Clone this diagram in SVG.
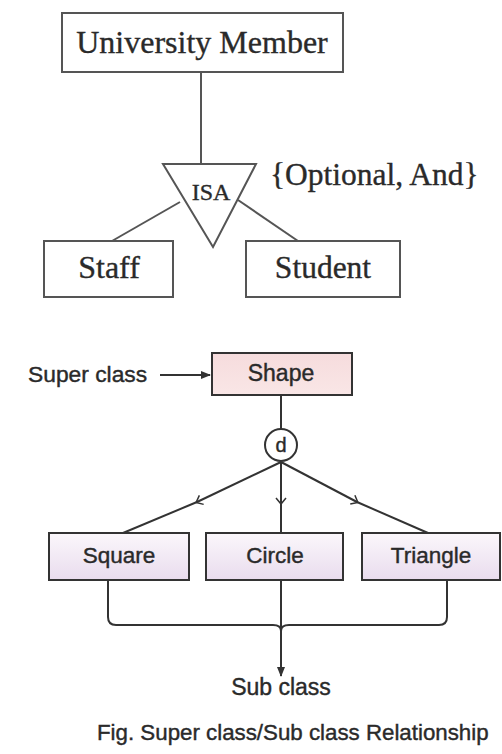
<svg xmlns="http://www.w3.org/2000/svg" width="502" height="754" viewBox="0 0 502 754">
<style>
.serif{font-family:"Liberation Serif","Times New Roman",serif;fill:#2a2a2a;stroke:#2a2a2a;stroke-width:0.35}
.sans{font-family:"Liberation Sans",Arial,sans-serif;fill:#2a2a2a;stroke:#2a2a2a;stroke-width:0.4}
.er{fill:#fff;stroke:#555;stroke-width:2}
.ln{fill:none;stroke:#555;stroke-width:2}
.dk{fill:none;stroke:#333;stroke-width:2}
.sub{fill:url(#gSub);stroke:#333;stroke-width:2}
</style>
<defs>
<linearGradient id="gSub" x1="0" y1="0" x2="0" y2="1">
<stop offset="0" stop-color="#fbf7fb"/>
<stop offset="1" stop-color="#e9dcee"/>
</linearGradient>
<linearGradient id="gSup" x1="0" y1="0" x2="0" y2="1">
<stop offset="0" stop-color="#f6dcdd"/>
<stop offset="1" stop-color="#f9e6e6"/>
</linearGradient>
<marker id="solid" markerWidth="10" markerHeight="10" refX="9" refY="5" orient="auto" markerUnits="userSpaceOnUse">
<path d="M0,1 L10,5 L0,9 Z" fill="#333"/>
</marker>
<marker id="open" markerWidth="12" markerHeight="12" refX="6" refY="6" orient="auto" markerUnits="userSpaceOnUse">
<path d="M1,1 L7,6 L1,11" fill="none" stroke="#333" stroke-width="1.5"/>
</marker>
</defs>

<g id="connectors">
<line class="ln" x1="201" y1="72" x2="201" y2="164"/>
<line class="ln" x1="180" y1="202" x2="112" y2="241"/>
<line class="ln" x1="238" y1="200" x2="298" y2="241"/>
<line class="dk" x1="160" y1="375" x2="210" y2="375" marker-end="url(#solid)"/>
<line class="dk" x1="281" y1="396" x2="281" y2="429"/>
<path class="dk" d="M281,462 L197,502" marker-end="url(#open)"/>
<line class="dk" x1="197" y1="502" x2="123" y2="533"/>
<path class="dk" d="M281,462 L281,503" marker-end="url(#open)"/>
<line class="dk" x1="281" y1="503" x2="281" y2="533"/>
<path class="dk" d="M281,462 L357,502" marker-end="url(#open)"/>
<line class="dk" x1="357" y1="502" x2="428" y2="533"/>
<path class="dk" d="M108,580 L108,617 Q108,625 116,625 L273,625 Q281,625 281,631 Q281,625 289,625 L439,625 Q447,625 447,617 L447,580"/>
<line class="dk" x1="281" y1="580" x2="281" y2="676" marker-end="url(#solid)"/>
</g>

<g id="university-member">
<rect class="er" x="62" y="13" width="281" height="59"/>
<text class="serif" x="202" y="53" font-size="32" text-anchor="middle">University Member</text>
</g>
<g id="isa">
<polygon class="er" points="163,164 256,164 213,247"/>
<text class="serif" x="211" y="200" font-size="24" text-anchor="middle">ISA</text>
</g>
<g id="constraint">
<text class="serif" x="270" y="185" font-size="31.5">{Optional, And}</text>
</g>
<g id="staff">
<rect class="er" x="44" y="241" width="129" height="56"/>
<text class="serif" x="109" y="278" font-size="32" text-anchor="middle">Staff</text>
</g>
<g id="student">
<rect class="er" x="246" y="241" width="154" height="56"/>
<text class="serif" x="323" y="278" font-size="31.5" text-anchor="middle">Student</text>
</g>

<g id="super-class-label">
<text class="sans" x="28" y="382" font-size="22.8">Super class</text>
</g>
<g id="shape">
<rect x="212" y="353" width="140" height="42" fill="url(#gSup)" stroke="#333" stroke-width="2"/>
<text class="sans" x="281" y="381" font-size="23" text-anchor="middle">Shape</text>
</g>
<g id="disjoint">
<circle cx="281" cy="445" r="16" fill="#fff" stroke="#333" stroke-width="2"/>
<text class="sans" x="281" y="452" font-size="20" text-anchor="middle">d</text>
</g>
<g id="square">
<rect class="sub" x="49" y="533" width="140" height="47"/>
<text class="sans" x="119" y="563" font-size="22.5" text-anchor="middle">Square</text>
</g>
<g id="circle">
<rect class="sub" x="206" y="533" width="137" height="47"/>
<text class="sans" x="275" y="563" font-size="22.5" text-anchor="middle">Circle</text>
</g>
<g id="triangle">
<rect class="sub" x="362" y="533" width="138" height="47"/>
<text class="sans" x="431" y="563" font-size="22.5" text-anchor="middle">Triangle</text>
</g>
<g id="sub-class-label">
<text class="sans" x="281" y="695" font-size="23" text-anchor="middle">Sub class</text>
</g>
<g id="caption">
<text class="sans" x="97" y="740" font-size="22.3">Fig. Super class/Sub class Relationship</text>
</g>
</svg>
